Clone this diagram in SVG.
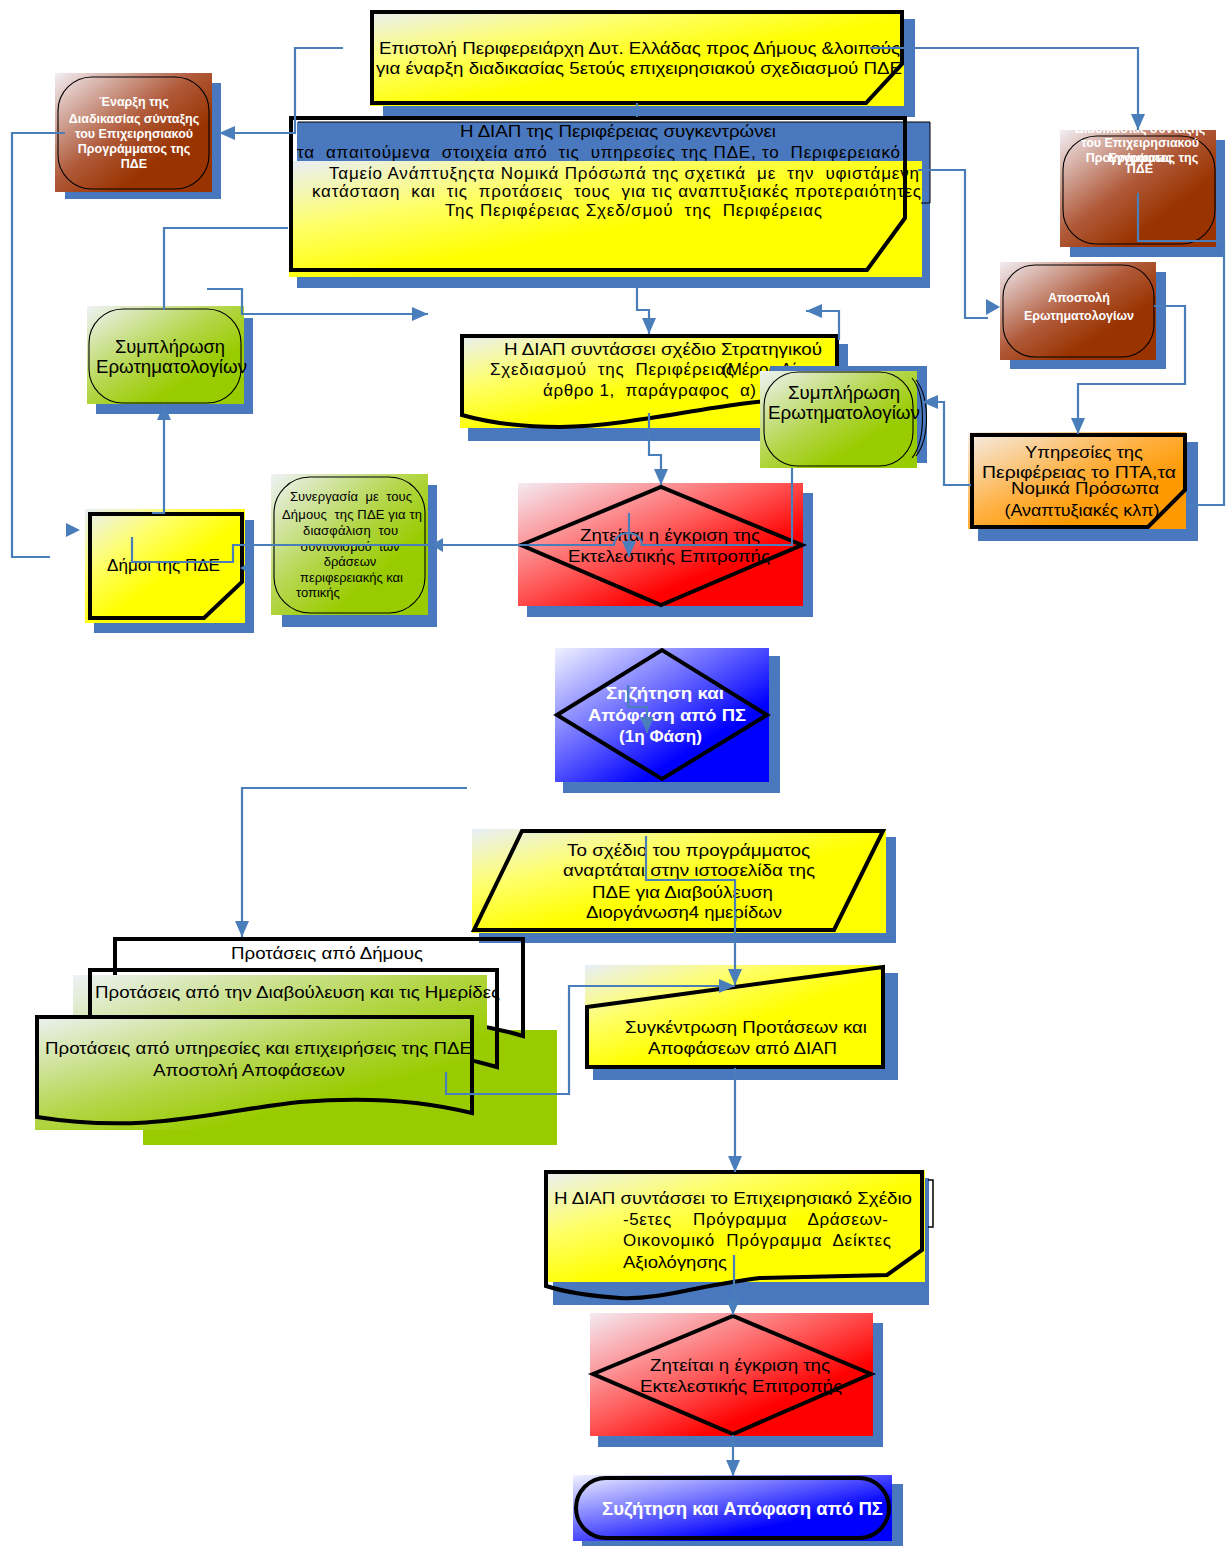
<svg xmlns="http://www.w3.org/2000/svg" width="1226" height="1546" viewBox="0 0 1226 1546">
<defs>
<style>
.sh{fill:#4a78bf}
.bd{fill:none;stroke:#000;stroke-width:4;stroke-linejoin:miter}
.ol{fill:none;stroke:#000;stroke-width:1.1}
.t{font-family:"Liberation Sans",Arial,sans-serif;font-size:17px;fill:#000}
.tm{text-anchor:middle}
.pre{white-space:pre}
.s13{font-size:13px}
.s18{font-size:18px}
.tw{font-family:"Liberation Sans",Arial,sans-serif;font-weight:bold;fill:#fff;text-anchor:middle}
.cn{fill:none;stroke:#4a7ebb;stroke-width:2.2}
.ar{fill:none;stroke:#4a7ebb;stroke-width:2.2;marker-end:url(#ah)}
.ah{fill:#4a7ebb}
</style>
<marker id="ah" viewBox="0 0 16 14" refX="16" refY="7" markerWidth="16" markerHeight="14" markerUnits="userSpaceOnUse" orient="auto"><path d="M0,0 L16,7 L0,14 Z" fill="#4a7ebb"/></marker>
<linearGradient id="gY" x1="0" y1="0" x2="1" y2="1"><stop offset="0" stop-color="#e8eef8"/><stop offset="0.3" stop-color="#ffff66"/><stop offset="0.55" stop-color="#ffff00"/></linearGradient>
<linearGradient id="gBr" x1="0" y1="0" x2="1" y2="1"><stop offset="0" stop-color="#f2eef4"/><stop offset="0.45" stop-color="#b05a3a"/><stop offset="0.7" stop-color="#993300"/></linearGradient>
<linearGradient id="gGr" x1="0" y1="0" x2="1" y2="1"><stop offset="0" stop-color="#eef2f6"/><stop offset="0.45" stop-color="#b4d64a"/><stop offset="0.7" stop-color="#99cc00"/></linearGradient>
<linearGradient id="gRd" x1="0" y1="0" x2="1" y2="1"><stop offset="0" stop-color="#f4eaf2"/><stop offset="0.45" stop-color="#ff5a5a"/><stop offset="0.7" stop-color="#ff0000"/></linearGradient>
<linearGradient id="gBl" x1="0" y1="0" x2="1" y2="1"><stop offset="0" stop-color="#f0f2ff"/><stop offset="0.45" stop-color="#5a5aff"/><stop offset="0.7" stop-color="#0000ff"/></linearGradient>
<linearGradient id="gOr" x1="0" y1="0" x2="1" y2="1"><stop offset="0" stop-color="#f4eeea"/><stop offset="0.45" stop-color="#ffb040"/><stop offset="0.7" stop-color="#ff9900"/></linearGradient>
</defs>
<rect width="1226" height="1546" fill="#fff"/>

<g id="n-letter">
<rect class="sh" x="383" y="19" width="532" height="98"/>
<rect x="370" y="10" width="534" height="96" fill="url(#gY)"/>
<path class="bd" d="M372,12 H902 V64 L866,103 H372 Z"/>
<text class="t tm" x="639.5" y="54" textLength="521" lengthAdjust="spacingAndGlyphs">Επιστολή Περιφερειάρχη Δυτ. Ελλάδας προς Δήμους &amp;λοιπούς</text>
<text class="t tm" x="639" y="74" textLength="526" lengthAdjust="spacingAndGlyphs">για έναρξη διαδικασίας 5ετούς επιχειρησιακού σχεδιασμού ΠΔΕ</text>
</g>

<g id="n-collect">
<rect class="sh" x="297" y="122" width="633" height="166"/>
<rect x="289" y="161" width="633" height="116" fill="url(#gY)"/>
<path d="M298,122 H930 V203 H921" fill="none" stroke="#000" stroke-width="1"/>
<path class="bd" d="M291,118 H905 V218 L867,270 H291 Z"/>
<text class="t tm" x="618" y="137" textLength="316" lengthAdjust="spacingAndGlyphs">Η ΔΙΑΠ της Περιφέρειας συγκεντρώνει</text>
<text class="t tm pre" x="598.5" y="158" textLength="603">τα  απαιτούμενα  στοιχεία από  τις  υπηρεσίες της ΠΔΕ, το  Περιφερειακό</text>
<text class="t tm pre" x="624" y="179" textLength="590">Ταμείο Ανάπτυξηςτα Νομικά Πρόσωπά της σχετικά  με  την  υφιστάμενη</text>
<text class="t tm pre" x="616.5" y="197" textLength="609">κατάσταση  και  τις  προτάσεις  τους  για τις αναπτυξιακές προτεραιότητες</text>
<text class="t tm pre" x="633.5" y="216" textLength="377">Της Περιφέρειας Σχεδ/σμού  της  Περιφέρειας</text>
</g>

<g id="n-start">
<rect class="sh" x="65" y="83" width="156" height="116"/>
<rect x="55" y="73" width="157" height="119" fill="url(#gBr)"/>
<rect class="ol" x="58" y="77" width="151" height="112" rx="34"/>
<text class="tw" font-size="12.5" x="134" y="106">Έναρξη της</text>
<text class="tw" font-size="12.5" x="134" y="123">Διαδικασίας σύνταξης</text>
<text class="tw" font-size="12.5" x="134" y="138">του Επιχειρησιακού</text>
<text class="tw" font-size="12.5" x="134" y="153">Προγράμματος της</text>
<text class="tw" font-size="12.5" x="134" y="168">ΠΔΕ</text>
</g>

<g id="n-start-right">
<rect class="sh" x="1070" y="140" width="155" height="117"/>
<rect x="1060" y="130" width="156" height="117" fill="url(#gBr)"/>
<rect class="ol" x="1063" y="136" width="152" height="108" rx="34"/>
<text class="tw" font-size="12.5" x="1140" y="133">Διαδικασίας σύνταξης</text>
<text class="tw" font-size="12.5" x="1140" y="147">του Επιχειρησιακού</text>
<text class="tw" font-size="12.5" x="1142" y="162">Προγράμματος της</text>
<text class="tw" font-size="12.5" x="1140" y="162">Εγγράφως</text>
<text class="tw" font-size="12.5" x="1140" y="173">ΠΔΕ</text>
</g>

<g id="n-send">
<rect class="sh" x="1010" y="272" width="156" height="97"/>
<rect x="1000" y="262" width="156" height="98" fill="url(#gBr)"/>
<rect class="ol" x="1003" y="265" width="151" height="92" rx="32"/>
<text class="tw" font-size="12.5" x="1079" y="302">Αποστολή</text>
<text class="tw" font-size="12.5" x="1079" y="320">Ερωτηματολογίων</text>
</g>

<g id="n-services">
<rect class="sh" x="978" y="442" width="220" height="99"/>
<rect x="968" y="432" width="218" height="97" fill="url(#gOr)"/>
<path class="bd" d="M972,435 H1185 V490 L1148,527 H972 Z"/>
<text class="t tm" x="1084" y="458" textLength="118" lengthAdjust="spacingAndGlyphs">Υπηρεσίες της</text>
<text class="t tm" x="1079" y="478" textLength="194" lengthAdjust="spacingAndGlyphs">Περιφέρειας το ΠΤΑ,τα</text>
<text class="t tm" x="1085" y="494" textLength="148" lengthAdjust="spacingAndGlyphs">Νομικά Πρόσωπα</text>
<text class="t tm" x="1082" y="516" textLength="155" lengthAdjust="spacingAndGlyphs">(Αναπτυξιακές κλπ)</text>
</g>

<g id="n-fill-left">
<rect class="sh" x="96" y="318" width="157" height="96"/>
<rect x="87" y="306" width="157" height="98" fill="url(#gGr)"/>
<rect class="ol" x="89" y="309" width="152" height="94" rx="34"/>
<text class="t tm s18" x="170" y="353" textLength="110" lengthAdjust="spacingAndGlyphs">Συμπλήρωση</text>
<text class="t tm s18" x="171.5" y="373" textLength="151" lengthAdjust="spacingAndGlyphs">Ερωτηματολογίων</text>
</g>

<g id="n-strategy">
<rect class="sh" x="468" y="344" width="380" height="97"/>
<rect x="460" y="334" width="378" height="94" fill="url(#gY)"/>
<path class="bd" d="M462,336 H837 V398 C800,398 770,400 740,404 C680,412 620,426 560,427 C520,427 490,423 462,415 Z"/>
<text class="t tm" x="663" y="355" textLength="318" lengthAdjust="spacingAndGlyphs">Η ΔΙΑΠ συντάσσει σχέδιο Στρατηγικού</text>
<text class="t pre" x="490" y="375" textLength="244">Σχεδιασμού  της  Περιφέρειας</text>
<text class="t" x="722" y="375">(Μέρος Α΄</text>
<text class="t tm pre" x="649.5" y="396" textLength="213">άρθρο 1,  παράγραφος  α)</text>
</g>

<g id="n-fill-right">
<rect class="sh" x="770" y="366" width="157" height="97"/>
<rect x="760" y="371" width="157" height="97" fill="url(#gGr)"/>
<rect class="ol" x="764" y="372" width="149" height="94" rx="34"/>
<path class="ol" d="M912,378 C926,395 926,440 912,458 M916,380 C930,398 930,438 916,456"/>
<text class="t tm s18" x="844" y="399" textLength="112" lengthAdjust="spacingAndGlyphs">Συμπλήρωση</text>
<text class="t tm s18" x="844" y="419" textLength="152" lengthAdjust="spacingAndGlyphs">Ερωτηματολογίων</text>
</g>

<g id="n-approve1">
<rect class="sh" x="527" y="493" width="286" height="124"/>
<rect x="518" y="483" width="285" height="123" fill="url(#gRd)"/>
<path class="bd" d="M521,545 L661,487 L802,545 L661,605 Z"/>
<text class="t tm" x="670" y="541" textLength="180" lengthAdjust="spacingAndGlyphs">Ζητείται η έγκριση της</text>
<text class="t tm" x="669" y="562" textLength="202" lengthAdjust="spacingAndGlyphs">Εκτελεστικής Επιτροπής</text>
</g>

<g id="n-municipalities">
<rect class="sh" x="94" y="520" width="160" height="113"/>
<rect x="85" y="509" width="160" height="114" fill="url(#gY)"/>
<path class="bd" d="M90,514 H242 V582 L204,618 H90 Z"/>
<text class="t tm" x="163.5" y="571" textLength="113" lengthAdjust="spacingAndGlyphs">Δήμοι της ΠΔΕ</text>
</g>

<g id="n-coop">
<rect class="sh" x="282" y="485" width="155" height="142"/>
<rect x="271" y="474" width="157" height="141" fill="url(#gGr)"/>
<rect class="ol" x="274" y="477" width="151" height="136" rx="36"/>
<text class="t tm s13 pre" x="351" y="501" textLength="122">Συνεργασία  με  τους</text>
<text class="t tm s13 pre" x="352" y="519" textLength="140">Δήμους  της ΠΔΕ για τη</text>
<text class="t tm s13 pre" x="350.5" y="535" textLength="95">διασφάλιση  του</text>
<text class="t tm s13 pre" x="350" y="551" textLength="99">συντονισμού  των</text>
<text class="t tm s13" x="350" y="566">δράσεων</text>
<text class="t tm s13" x="351.5" y="582" textLength="103" lengthAdjust="spacingAndGlyphs">περιφερειακής και</text>
<text class="t s13" x="296" y="597">τοπικής</text>
</g>

<g id="n-discuss1">
<rect class="sh" x="563" y="656" width="217" height="137"/>
<rect x="555" y="648" width="214" height="134" fill="url(#gBl)"/>
<path class="bd" d="M557,715 L662,650 L767,715 L662,779 Z"/>
<text class="tw" font-size="17" x="665" y="699" textLength="118" lengthAdjust="spacingAndGlyphs">Σηζήτηση και</text>
<text class="tw" font-size="17" x="667" y="721" textLength="158" lengthAdjust="spacingAndGlyphs">Απόφαση από ΠΣ</text>
<text class="tw" font-size="17" x="660.5" y="742" textLength="83" lengthAdjust="spacingAndGlyphs">(1η Φάση)</text>
</g>

<g id="n-publish">
<rect class="sh" x="479" y="837" width="417" height="106"/>
<rect x="472" y="829" width="414" height="104" fill="url(#gY)"/>
<path class="bd" d="M522,831 H883 L834,930 H474 Z"/>
<text class="t tm" x="688.5" y="856" textLength="243" lengthAdjust="spacingAndGlyphs">Το σχέδιο του προγράμματος</text>
<text class="t tm" x="689" y="876" textLength="252" lengthAdjust="spacingAndGlyphs">αναρτάται στην ιστοσελίδα της</text>
<text class="t tm" x="682.5" y="898" textLength="181" lengthAdjust="spacingAndGlyphs">ΠΔΕ για Διαβούλευση</text>
<text class="t tm" x="684" y="918" textLength="196" lengthAdjust="spacingAndGlyphs">Διοργάνωση4 ημερίδων</text>
</g>

<g id="n-prop-municipalities">
<rect x="143" y="1030" width="414" height="115" fill="#99cc00"/>
<path class="bd" d="M115,939 H523 V1036 C470,1020 400,1015 330,1025 C250,1035 180,1045 115,1030 Z" fill="#fff"/>
<text class="t tm" x="327" y="959" textLength="192" lengthAdjust="spacingAndGlyphs">Προτάσεις από Δήμους</text>
</g>

<g id="n-prop-consultation">
<rect x="73" y="975" width="414" height="155" fill="url(#gGr)"/>
<path class="bd" d="M90,970 H497 V1067 C440,1050 380,1048 300,1060 C220,1072 150,1080 90,1065 Z"/>
<text class="t" x="95" y="998" textLength="405" lengthAdjust="spacingAndGlyphs">Προτάσεις από την Διαβούλευση και τις Ημερίδες</text>
</g>

<g id="n-prop-services">
<rect x="35" y="1015" width="435" height="115" fill="url(#gGr)"/>
<path class="bd" d="M37,1017 H472 V1113 C420,1100 360,1097 300,1102 C220,1110 150,1135 37,1117 Z"/>
<text class="t" x="45" y="1054" textLength="427" lengthAdjust="spacingAndGlyphs">Προτάσεις από υπηρεσίες και επιχειρήσεις της ΠΔΕ</text>
<text class="t tm" x="249" y="1076" textLength="192" lengthAdjust="spacingAndGlyphs">Αποστολή Αποφάσεων</text>
</g>

<g id="n-gather">
<rect class="sh" x="593" y="973" width="305" height="107"/>
<rect x="585" y="965" width="300" height="103" fill="url(#gY)"/>
<path class="bd" d="M587,1007 L883,967 V1067 H587 Z"/>
<text class="t tm" x="746" y="1033" textLength="242" lengthAdjust="spacingAndGlyphs">Συγκέντρωση Προτάσεων και</text>
<text class="t tm" x="742.5" y="1054" textLength="189" lengthAdjust="spacingAndGlyphs">Αποφάσεων από ΔΙΑΠ</text>
</g>

<g id="n-plan">
<rect class="sh" x="553" y="1178" width="376" height="127"/>
<rect x="545" y="1170" width="380" height="112" fill="url(#gY)"/>
<path class="bd" d="M546,1172 H922 V1250 L887,1275 L760,1278 C700,1285 660,1300 620,1298 C590,1296 565,1292 546,1286 Z"/>
<path d="M928,1180 H933 V1227 H928" fill="none" stroke="#000" stroke-width="1.5"/>
<text class="t tm" x="733" y="1204" textLength="358" lengthAdjust="spacingAndGlyphs">Η ΔΙΑΠ συντάσσει το Επιχειρησιακό Σχέδιο</text>
<text class="t pre" x="623" y="1225" textLength="265">-5ετες    Πρόγραμμα    Δράσεων-</text>
<text class="t pre" x="623" y="1246" textLength="268">Οικονομικό  Πρόγραμμα  Δείκτες</text>
<text class="t" x="623" y="1268" textLength="104" lengthAdjust="spacingAndGlyphs">Αξιολόγησης</text>
</g>

<g id="n-approve2">
<rect class="sh" x="598" y="1323" width="285" height="124"/>
<rect x="590" y="1313" width="283" height="123" fill="url(#gRd)"/>
<path class="bd" d="M593,1374 L733,1316 L871,1374 L733,1434 Z"/>
<text class="t tm" x="740" y="1371" textLength="180" lengthAdjust="spacingAndGlyphs">Ζητείται η έγκριση της</text>
<text class="t tm" x="741" y="1392" textLength="202" lengthAdjust="spacingAndGlyphs">Εκτελεστικής Επιτροπής</text>
</g>

<g id="n-final">
<rect class="sh" x="582" y="1484" width="321" height="62"/>
<rect x="573" y="1475" width="319" height="66" fill="url(#gBl)"/>
<rect class="bd" x="576" y="1478" width="313" height="60" rx="30"/>
<text class="tw" font-size="18" x="742.5" y="1515" textLength="281" lengthAdjust="spacingAndGlyphs">Συζήτηση και Απόφαση από ΠΣ</text>
</g>

<g id="connectors">
<path class="ar" d="M343,48 H295 V133 H219"/>
<path class="ar" d="M870,48 H1138 V130"/>
<path class="cn" d="M65,133 H12 V557 H50"/>
<polygon class="ah" points="66,523 80,530 66,537"/>
<path class="cn" d="M288,228 H164 V310"/>
<path class="ar" d="M207,289 H242 V314 H428"/>
<path class="ar" d="M152,513 H164 V404"/>
<path class="cn" d="M637,103 V117"/>
<path class="ar" d="M637,288 V310 H649 V334"/>
<path class="ar" d="M649,413 V455 H661 V485"/>
<path class="ar" d="M839,340 V311 H806"/>
<path class="cn" d="M918,170 H965 V318 H988"/>
<polygon class="ah" points="986,299 1000,307 986,315"/>
<path class="ar" d="M1154,306 H1185 V384 H1078 V434"/>
<path class="cn" d="M1138,193 V241 H1224 V505 H1187"/>
<path class="ar" d="M971,485 H944 V402 H922"/>
<path class="cn" d="M792,468 V545 H642 A14,12 0 0 0 614,545 H233 V562 H132 V537"/>
<polygon class="ah" points="431,545 443,538 443,552"/>
<polygon class="ah" points="240,568 252,561 252,575"/>
<path class="ar" d="M629,513 V557"/>
<path class="ar" d="M628,685 V707 H647 V733"/>
<path class="ar" d="M467,788 H242 V937"/>
<path class="ar" d="M646,836 V880 H735 V985"/>
<path class="ar" d="M446,1072 V1094 H569 V986 H735"/>
<path class="ar" d="M735,1068 V1172"/>
<path class="ar" d="M734,1255 V1300 H733 V1315"/>
<path class="ar" d="M733,1435 V1476"/>
</g>
</svg>
